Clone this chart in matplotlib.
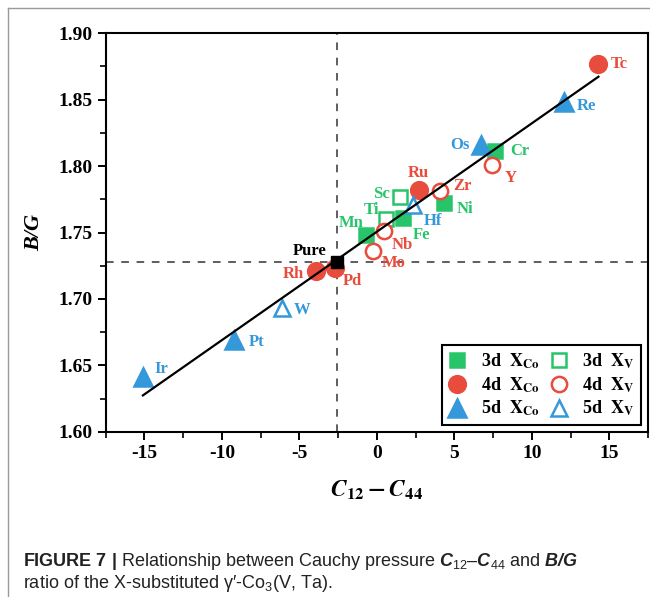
import numpy as np
import matplotlib
matplotlib.use('Agg')
import matplotlib.pyplot as plt
from matplotlib.lines import Line2D
from matplotlib.font_manager import FontProperties

plt.rcParams['font.family'] = ['Liberation Serif', 'DejaVu Serif']
plt.rcParams['font.weight'] = 'bold'
plt.rcParams['axes.unicode_minus'] = False
plt.rcParams['mathtext.fontset'] = 'custom'
plt.rcParams['mathtext.rm'] = 'Liberation Sans:weight=normal'
plt.rcParams['mathtext.it'] = 'Liberation Sans:italic:weight=normal'
plt.rcParams['mathtext.bf'] = 'Liberation Sans:bold'
plt.rcParams['mathtext.bfit'] = 'Liberation Sans:bold:italic'

# data: C12-C44 (x) and B/G (y)
el_3d_co = ['Mn', 'Fe', 'Ni', 'Cr']
x_3d_co = [-0.7, 1.7, 4.3, 7.6]
y_3d_co = [1.748, 1.761, 1.772, 1.811]

el_3d_v = ['Sc', 'Ti']
x_3d_v = [1.5, 0.6]
y_3d_v = [1.777, 1.760]

el_4d_co = ['Rh', 'Pd', 'Ru', 'Tc']
x_4d_co = [-3.95, -2.7, 2.7, 14.3]
y_4d_co = [1.721, 1.723, 1.782, 1.877]

el_4d_v = ['Mo', 'Nb', 'Zr', 'Y']
x_4d_v = [-0.25, 0.45, 4.05, 7.4]
y_4d_v = [1.736, 1.751, 1.781, 1.801]

el_5d_co = ['Ir', 'Pt', 'Os', 'Re']
x_5d_co = [-15.1, -9.2, 6.75, 12.1]
y_5d_co = [1.641, 1.669, 1.816, 1.848]

el_5d_v = ['W', 'Hf']
x_5d_v = [-6.15, 2.3]
y_5d_v = [1.693, 1.771]

pure_x = -2.6
pure_y = 1.728

green = '#27c46a'
red = '#e74c3c'
blue = '#3498db'

# label offsets in pixels (dx, dy, ha)
lab_off = {
    'Tc': (12, 0, 'left'), 'Re': (12, -4, 'left'), 'Cr': (16, 0, 'left'),
    'Y': (13, -13, 'left'), 'Os': (-12, 0, 'right'), 'Zr': (14, 5, 'left'),
    'Ni': (13, -6, 'left'), 'Ru': (0, 17, 'center'), 'Hf': (11, -16, 'left'),
    'Sc': (-10, 3, 'right'), 'Ti': (-7, 9, 'right'), 'Fe': (10, -17, 'left'),
    'Mn': (-2, 12, 'right'), 'Nb': (8, -14, 'left'), 'Mo': (9, -12, 'left'),
    'Rh': (-12, -3, 'right'), 'Pd': (8, -13, 'left'), 'Ir': (12, 8, 'left'),
    'Pt': (14, -2, 'left'), 'W': (12, -2, 'left'),
}

fig = plt.figure(figsize=(6.5, 5.97), dpi=100)
ax = fig.add_axes([0.1626, 0.2764, 0.8344, 0.6683])

ax.axhline(pure_y, color='#333333', lw=1.1, ls=(0, (5, 5)), zorder=1)
ax.axvline(pure_x, color='#333333', lw=1.1, ls=(0, (5, 5)), zorder=1)

groups = [
    (el_3d_co, x_3d_co, y_3d_co, 's', green, True, 10, '3d  $\\mathbf{X}_{\\mathbf{Co}}$'),
    (el_4d_co, x_4d_co, y_4d_co, 'o', red, True, 12, '4d  $\\mathbf{X}_{\\mathbf{Co}}$'),
    (el_5d_co, x_5d_co, y_5d_co, '^', blue, True, 13, '5d  $\\mathbf{X}_{\\mathbf{Co}}$'),
    (el_3d_v, x_3d_v, y_3d_v, 's', green, False, 10, '3d  $\\mathbf{X}_{\\mathbf{V}}$'),
    (el_4d_v, x_4d_v, y_4d_v, 'o', red, False, 11, '4d  $\\mathbf{X}_{\\mathbf{V}}$'),
    (el_5d_v, x_5d_v, y_5d_v, '^', blue, False, 12, '5d  $\\mathbf{X}_{\\mathbf{V}}$'),
]

handles = []
for els, xs, ys, mk, col, filled, ms, lab in groups:
    h, = ax.plot(xs, ys, ls='none', marker=mk, ms=ms, mec=col, mew=1.8,
                 mfc=col if filled else 'white', zorder=3, label=lab)
    handles.append(h)
    for e, x, y in zip(els, xs, ys):
        dx, dy, ha = lab_off[e]
        ax.annotate(e, (x, y), xytext=(dx, dy), textcoords='offset pixels',
                    ha=ha, va='center', color=col, fontsize=12, fontweight='bold')

ax.plot([pure_x], [pure_y], ls='none', marker='s', ms=8, color='black', zorder=3)
ax.annotate('Pure', (pure_x, pure_y), xytext=(-10, 11), textcoords='offset pixels',
            ha='right', va='center', color='black', fontsize=12, fontweight='bold')

# linear fit through all points
all_x = np.array(x_3d_co + x_3d_v + x_4d_co + x_4d_v + x_5d_co + x_5d_v + [pure_x])
all_y = np.array(y_3d_co + y_3d_v + y_4d_co + y_4d_v + y_5d_co + y_5d_v + [pure_y])
k, b = np.polyfit(all_x, all_y, 1)
fx = np.array([all_x.min(), all_x.max()])
ax.plot(fx, k * fx + b, color='black', lw=1.6, zorder=4)

ax.set_xlim(-17.5, 17.5)
ax.set_ylim(1.60, 1.90)
ax.set_xticks([-15, -10, -5, 0, 5, 10, 15])
ax.set_xticks(np.arange(-17.5, 17.6, 2.5), minor=True)
ax.set_yticks(np.arange(1.60, 1.901, 0.05))
ax.set_yticks(np.arange(1.625, 1.90, 0.05), minor=True)
ax.set_yticklabels(['%.2f' % v for v in np.arange(1.60, 1.901, 0.05)])
ax.tick_params(which='major', direction='out', length=6, width=1.4, labelsize=14)
ax.tick_params(which='minor', direction='out', length=4, width=1.2)
for s in ax.spines.values():
    s.set_linewidth(1.5)

ax.set_xlabel('$\\mathbfit{C}_{\\mathbf{12}}-\\mathbfit{C}_{\\mathbf{44}}$',
              fontsize=17, math_fontfamily='stix', labelpad=12)
ax.set_ylabel('B/G', fontsize=16, fontstyle='italic', fontweight='bold', labelpad=10)

leg_prop = FontProperties(family='Liberation Serif', weight='bold', size=13, math_fontfamily='stix')
leg = ax.legend(handles=handles, ncol=2, loc='lower right', prop=leg_prop,
                frameon=True, fancybox=False, framealpha=1, edgecolor='black',
                handlelength=1.0, handletextpad=0.8, columnspacing=0.6,
                labelspacing=0.25, borderaxespad=0.4, borderpad=0.35)
leg.get_frame().set_linewidth(1.5)

# caption and page frame
fig.add_artist(Line2D([8 / 650, 8 / 650], [0, 1 - 8 / 597], color='#999999', lw=1))
fig.add_artist(Line2D([8 / 650, 1], [1 - 8 / 597, 1 - 8 / 597], color='#999999', lw=1))
cap1 = ('$\\mathbf{FIGURE\\ 7\\ |}$ Relationship between Cauchy pressure '
        '$\\mathbfit{C}_{12}$\u2013$\\mathbfit{C}_{44}$ and $\\mathbfit{B/G}$')
cap2 = 'ratio of the X-substituted \u03b3\u2032-Co$_{3}$(V, Ta).'
fig.text(23 / 650, 1 - 561 / 597, cap1, family=['Liberation Sans', 'DejaVu Sans'],
         fontweight='normal', fontsize=13, va='center', color='#222222', math_fontfamily='custom')
fig.text(23 / 650, 1 - 584 / 597, cap2, family=['Liberation Sans', 'DejaVu Sans'],
         fontweight='normal', fontsize=13, va='center', color='#222222', math_fontfamily='custom')

fig.savefig('out.png', dpi=100)
